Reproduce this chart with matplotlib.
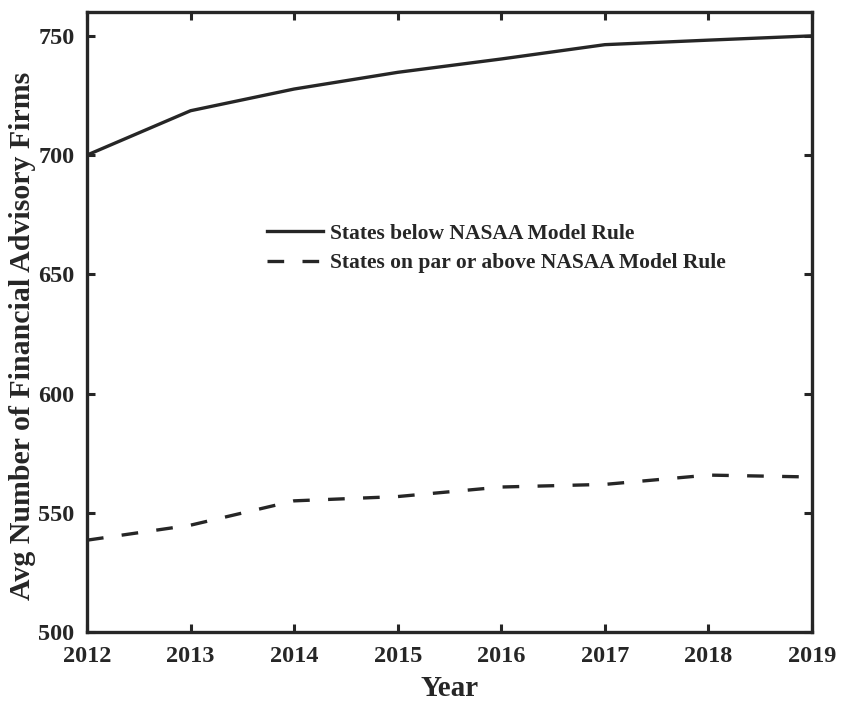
import matplotlib
matplotlib.use("Agg")
import matplotlib.pyplot as plt

years = [2012, 2013, 2014, 2015, 2016, 2017, 2018, 2019]
below_rule = [700, 718.6, 727.7, 734.7, 740.3, 746.3, 748.2, 750]
par_or_above = [538.5, 544.8, 555, 556.8, 560.8, 561.9, 565.8, 565]

series_labels = ["States below NASAA Model Rule",
                 "States on par or above NASAA Model Rule"]
y_ticks = [500, 550, 600, 650, 700, 750]

plt.rcParams["font.family"] = ["Liberation Serif", "DejaVu Serif"]
plt.rcParams["font.weight"] = "bold"

ink = "#262626"
fig = plt.figure(figsize=(8.41, 7.02), dpi=100)
ax = fig.add_axes([87 / 841, 70 / 702, 725 / 841, 620 / 702])

ax.plot(years, below_rule, color=ink, lw=2.4, label=series_labels[0])
ax.plot(years, par_or_above, color=ink, lw=2.4, dashes=(5, 5.5),
        label=series_labels[1])

ax.set_xlim(2012, 2019)
ax.set_ylim(500, 760)
ax.set_xticks(years)
ax.set_yticks(y_ticks)
ax.tick_params(direction="in", length=6, width=2.2, top=True, right=True,
               labelsize=17.5, colors=ink)
ax.tick_params(axis="x", pad=10)
ax.tick_params(axis="y", pad=9)
for s in ax.spines.values():
    s.set_linewidth(2.4)
    s.set_color(ink)
for t in ax.get_xticklabels() + ax.get_yticklabels():
    t.set_fontweight("bold")

ax.set_xlabel("Year", fontsize=21, fontweight="bold", color=ink, labelpad=6)
ax.set_ylabel("Avg Number of Financial Advisory Firms", fontsize=21.5,
              fontweight="bold", color=ink)
ax.yaxis.set_label_coords(-0.07, 0.478)

leg = ax.legend(loc="upper left", bbox_to_anchor=(0.222, 0.69), frameon=False,
                prop={"weight": "bold", "size": 15.5}, handlelength=2.6,
                handletextpad=0.3, labelspacing=0.45)
for t in leg.get_texts():
    t.set_color(ink)

fig.savefig("out.png", dpi=100)
